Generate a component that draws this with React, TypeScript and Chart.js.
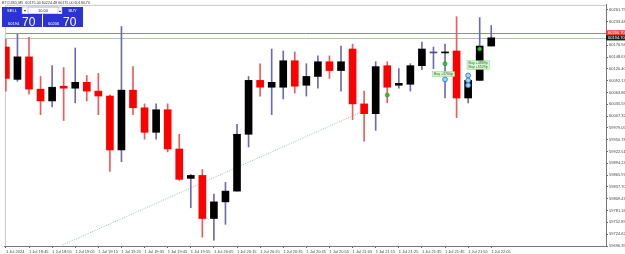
import { useEffect, useRef } from "react";
import { Chart, registerables } from "chart.js";

Chart.register(...registerables);

// ---- data ----
const xTimeLabels = [
  "1 Jul 2024", "1 Jul 18:45", "1 Jul 18:55", "1 Jul 19:05", "1 Jul 19:15", "1 Jul 19:25",
  "1 Jul 19:35", "1 Jul 19:45", "1 Jul 19:55", "1 Jul 20:05", "1 Jul 20:15", "1 Jul 20:25",
  "1 Jul 20:35", "1 Jul 20:45", "1 Jul 20:55", "1 Jul 21:05", "1 Jul 21:15", "1 Jul 21:25",
  "1 Jul 21:35", "1 Jul 21:45", "1 Jul 21:55", "1 Jul 22:05",
];

const opens = [
  60172.6, 60095.2, 60149.1, 60071.8, 60043.6, 60078.8, 60074.1, 60088.1, 60067.1, 60055.3,
  59926.3, 60069.4, 60027.2, 59968.5, 60022.5, 59928.6, 59858.2, 59865.3, 59762.2, 59802.0,
  59827.7, 59963.8, 60092.8, 60076.4, 60076.4, 60139.8, 60081.1, 60102.2, 60137.4, 60116.3,
  60167.9, 60036.5, 60013.1, 60128.0, 60081.1, 60083.5, 60128.0, 60158.5, 60158.5, 60163.2,
  60050.6, 60092.8, 60175.0,
];
const highs = [
  60191.4, 60203.1, 60196.1, 60102.2, 60128.0, 60123.3, 60170.3, 60104.6, 60109.3, 60058.0,
  60221.9, 60125.7, 60036.5, 60036.5, 60036.5, 59963.8, 59867.6, 59879.3, 59820.7, 59848.8,
  59987.3, 60102.2, 60132.7, 60167.9, 60163.2, 60160.9, 60132.7, 60151.5, 60151.5, 60175.0,
  60179.6, 60067.1, 60137.4, 60137.4, 60121.0, 60132.7, 60184.3, 60172.6, 60179.6, 60245.3,
  60104.6, 60243.0, 60224.2,
];
const lows = [
  60067.1, 60090.5, 60060.0, 60010.8, 60029.5, 59996.7, 60038.9, 60043.6, 60010.8, 59874.7,
  59898.1, 60010.8, 59952.1, 59952.1, 59921.6, 59853.5, 59787.9, 59717.5, 59710.4, 59748.2,
  59827.7, 59933.3, 60055.3, 60010.8, 60048.3, 60062.4, 60055.3, 60074.1, 60097.5, 60067.1,
  59999.0, 59947.4, 59973.2, 60038.9, 60074.1, 60067.1, 60118.6, 60121.0, 60050.6, 60003.8,
  60038.9, 60092.8, 60175.0,
];
const closes = [
  60097.5, 60149.1, 60071.8, 60043.6, 60076.4, 60074.1, 60088.1, 60067.1, 60055.3, 59926.3,
  60069.4, 60027.2, 59968.5, 60022.5, 59928.6, 59855.9, 59865.3, 59762.2, 59802.0, 59827.7,
  59963.8, 60092.8, 60076.4, 60088.1, 60139.8, 60078.8, 60102.2, 60137.4, 60116.3, 60137.4,
  60036.5, 60013.1, 60125.7, 60076.4, 60085.8, 60128.0, 60167.9, 60158.5, 60160.9, 60050.6,
  60092.8, 60175.0, 60194.7,
];

const yTicks = [
  60261.75, 60233.48, 60205.21, 60176.94, 60148.67, 60120.40, 60092.13, 60063.86, 60035.59,
  60007.32, 59979.05, 59950.78, 59922.51, 59894.24, 59865.97, 59837.70, 59809.43, 59781.16,
  59752.89, 59724.62, 59696.35,
];

const askPrice = 60206.7;
const bidPrice = 60194.7;
const headerText = "BTCUSD,M5  60175.00 60224.48 60175.00 60194.70";
const lotText = "10.00";

const entryMarkX = [33, 38, 41];
const entryMarkY = [60057.7, 60132.7, 60167.9];
const exitMarkX = [38, 40, 40, 40];
const exitMarkY = [60095.2, 60104.6, 60092.8, 60081.1];

const tradeLineX = [4.9, 31];
const tradeLineY = [59698.7, 60020.1];

const noteX = [36.9, 39.9];
const noteY = [60113.9, 60139.8];
const noteTexts = [["Buy +3760p"], ["Buy +4889p", "Buy +5529p"]];

const FONT = '"Liberation Sans", Arial, sans-serif';

export default function App() {
  const ref = useRef<HTMLCanvasElement | null>(null);

  useEffect(() => {
    const canvas = ref.current;
    if (!canvas) return;

    const wickData = opens.map((_, i) => ({ x: i, y: [lows[i], highs[i]] }));
    const bodyData = opens.map((o, i) => ({ x: i, y: [o, closes[i]] }));
    const bodyColors = opens.map((o, i) =>
      closes[i] > o ? "#000000" : closes[i] < o ? "#ff0000" : "#4a4a96"
    );
    const wickColors = opens.map((o, i) => (closes[i] < o ? "#f25a5a" : "#6c6cb0"));

    const overlay = {
      id: "mtOverlay",
      beforeDatasetsDraw(chart: any) {
        const { ctx, chartArea } = chart;
        const y = chart.scales.y;
        ctx.save();
        const yA = Math.round(y.getPixelForValue(askPrice)) + 0.5;
        const yB = Math.round(y.getPixelForValue(bidPrice)) + 0.5;
        ctx.lineWidth = 1;
        ctx.strokeStyle = "#e06a6a";
        ctx.beginPath();
        ctx.moveTo(chartArea.left, yA);
        ctx.lineTo(chartArea.right, yA);
        ctx.stroke();
        ctx.strokeStyle = "#bdbdbd";
        ctx.beginPath();
        ctx.moveTo(chartArea.left, yB);
        ctx.lineTo(chartArea.right, yB);
        ctx.stroke();
        ctx.strokeStyle = "#c8c8c8";
        ctx.beginPath();
        ctx.moveTo(chartArea.left + 0.5, chartArea.bottom);
        ctx.lineTo(chartArea.left + 0.5, chartArea.top + 0.5);
        ctx.lineTo(chartArea.right, chartArea.top + 0.5);
        ctx.stroke();
        ctx.restore();
      },
      afterDatasetsDraw(chart: any) {
        const { ctx } = chart;
        const x = chart.scales.x;
        const y = chart.scales.y;
        ctx.save();
        ctx.font = `3.6px ${FONT}`;
        ctx.textBaseline = "middle";
        noteTexts.forEach((lines, k) => {
          const px = x.getPixelForValue(noteX[k]);
          const py = y.getPixelForValue(noteY[k]);
          const w = Math.max(...lines.map((l) => ctx.measureText(l).width)) + 3;
          const h = lines.length * 3.6 + 1.5;
          ctx.fillStyle = "#d2f7d0";
          ctx.fillRect(px, py, w, h);
          ctx.strokeStyle = "#8fd68a";
          ctx.lineWidth = 0.5;
          ctx.strokeRect(px, py, w, h);
          ctx.fillStyle = "#3b6b3b";
          lines.forEach((l, j) => ctx.fillText(l, px + 1.5, py + 2.5 + j * 3.6));
        });
        ctx.restore();
      },
      afterDraw(chart: any) {
        const { ctx, chartArea } = chart;
        const y = chart.scales.y;
        ctx.save();
        const yA = y.getPixelForValue(askPrice);
        const yB = y.getPixelForValue(bidPrice);
        ctx.font = `4px ${FONT}`;
        ctx.textBaseline = "middle";
        ctx.fillStyle = "#ef3b3b";
        ctx.fillRect(chartArea.right, yA - 2.6, 625 - chartArea.right, 5.2);
        ctx.fillStyle = "#ffffff";
        ctx.fillText(askPrice.toFixed(2), chartArea.right + 2, yA);
        ctx.fillStyle = "#1c1c1c";
        ctx.fillRect(chartArea.right, yB - 2.6, 625 - chartArea.right, 5.2);
        ctx.fillStyle = "#ffffff";
        ctx.fillText(bidPrice.toFixed(2), chartArea.right + 2, yB);

        ctx.font = `3.7px ${FONT}`;
        ctx.textBaseline = "top";
        ctx.fillStyle = "#3a3a3a";
        ctx.fillText(headerText, 2, 1.5);

        const blue = "#2b33d2";
        ctx.fillStyle = blue;
        ctx.fillRect(2, 7, 20, 7);
        ctx.fillRect(62, 7, 21, 7);
        ctx.fillStyle = "#ffffff";
        ctx.fillRect(22, 7, 40, 7);
        ctx.strokeStyle = "#9a9ac8";
        ctx.lineWidth = 0.5;
        ctx.strokeRect(22, 7, 40, 7);
        ctx.strokeRect(28, 7, 30, 7);
        ctx.fillStyle = blue;
        ctx.fillRect(2, 14, 40, 13);
        ctx.fillRect(43, 14, 40, 13);

        ctx.textAlign = "center";
        ctx.textBaseline = "middle";
        ctx.font = `4px ${FONT}`;
        ctx.fillStyle = "#ffffff";
        ctx.fillText("SELL", 12, 10.6);
        ctx.fillText("BUY", 72.5, 10.6);
        ctx.fillStyle = "#333333";
        ctx.fillText("▾", 25, 10.6);
        ctx.fillText("▴", 60, 10.6);
        ctx.fillText(lotText, 43, 10.6);

        const bidStr = bidPrice.toFixed(2);
        const askStr = askPrice.toFixed(2);
        ctx.textAlign = "left";
        ctx.textBaseline = "alphabetic";
        ctx.fillStyle = "#ffffff";
        ctx.font = `4px ${FONT}`;
        ctx.fillText(bidStr.slice(0, 5), 8, 25);
        ctx.fillText(askStr.slice(0, 5), 48, 25);
        ctx.font = `12px ${FONT}`;
        ctx.fillText(bidStr.slice(6), 22, 26);
        ctx.fillText(askStr.slice(6), 63, 26);
        ctx.restore();
      },
    };

    const chart = new Chart(canvas, {
      type: "bar",
      data: {
        datasets: [
          {
            type: "line",
            label: "trade",
            data: tradeLineX.map((v, i) => ({ x: v, y: tradeLineY[i] })),
            borderColor: "#8fbf9f",
            borderWidth: 1,
            borderDash: [1, 1.5],
            pointRadius: 0,
            order: 6,
          } as any,
          {
            type: "bar",
            label: "wicks",
            data: wickData as any,
            backgroundColor: wickColors,
            barThickness: 1,
            grouped: false,
            order: 5,
          } as any,
          {
            type: "bar",
            label: "bodies",
            data: bodyData as any,
            backgroundColor: bodyColors,
            barThickness: 7,
            minBarLength: 1,
            grouped: false,
            order: 4,
          } as any,
          {
            type: "line",
            label: "entries",
            data: entryMarkX.map((v, i) => ({ x: v, y: entryMarkY[i] })),
            showLine: false,
            pointRadius: 2,
            pointBackgroundColor: "#33c233",
            pointBorderColor: "#1d8d1d",
            pointBorderWidth: 0.6,
            order: 2,
          } as any,
          {
            type: "line",
            label: "exits",
            data: exitMarkX.map((v, i) => ({ x: v, y: exitMarkY[i] })),
            showLine: false,
            pointRadius: 2.4,
            pointBackgroundColor: "#9fd4ff",
            pointBorderColor: "#2a7ed6",
            pointBorderWidth: 0.9,
            order: 1,
          } as any,
        ],
      },
      options: {
        responsive: false,
        animation: false,
        devicePixelRatio: 1,
        layout: { padding: 0 },
        plugins: { legend: { display: false }, tooltip: { enabled: false }, title: { display: false } },
        scales: {
          x: {
            type: "linear",
            min: -0.086,
            max: 51.93,
            offset: false,
            grid: { display: true, offset: false, drawOnChartArea: false, drawTicks: true, tickLength: 2, color: "#666", tickColor: "#666" },
            border: { display: true, color: "#777", width: 1 },
            afterBuildTicks: (s: any) => {
              s.ticks = xTimeLabels.map((_, k) => ({ value: 2 * k }));
            },
            afterFit: (s: any) => {
              s.height = 8;
              s.paddingLeft = 0;
              s.paddingRight = 0;
            },
            ticks: {
              autoSkip: false,
              maxRotation: 0,
              minRotation: 0,
              align: "start",
              padding: 1,
              color: "#444",
              font: { size: 4, family: FONT },
              callback: (_v: any, i: number) => xTimeLabels[i],
            },
          } as any,
          y: {
            type: "linear",
            position: "right",
            min: 59696.35,
            max: 60273.48,
            grid: { display: true, drawOnChartArea: false, drawTicks: true, tickLength: 2, color: "#666", tickColor: "#666" },
            border: { display: true, color: "#777", width: 1 },
            afterBuildTicks: (s: any) => {
              s.ticks = yTicks.map((v) => ({ value: v }));
            },
            afterFit: (s: any) => {
              s.width = 19;
              s.paddingTop = 0;
              s.paddingBottom = 0;
            },
            ticks: {
              autoSkip: false,
              padding: 1,
              color: "#444",
              font: { size: 4, family: FONT },
              callback: (v: any) => Number(v).toFixed(2),
            },
          } as any,
        },
      },
      plugins: [overlay],
    });

    return () => chart.destroy();
  }, []);

  return (
    <div style={{ position: "fixed", left: 0, top: 0, width: 625, height: 254, background: "#ffffff" }}>
      <canvas ref={ref} width={625} height={254} style={{ display: "block" }} />
    </div>
  );
}
